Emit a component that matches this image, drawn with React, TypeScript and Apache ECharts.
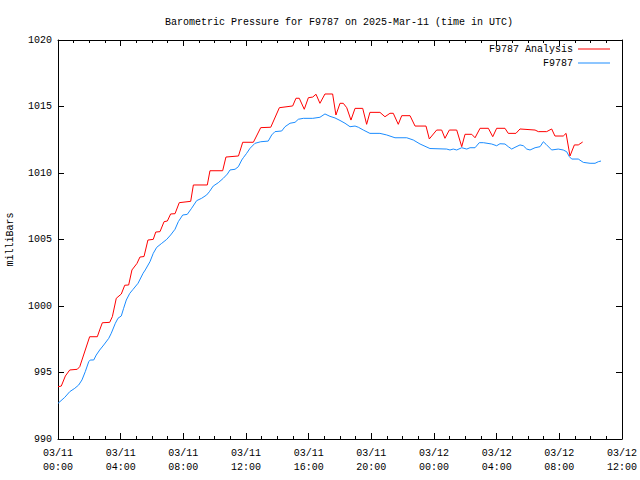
import React, { useEffect, useRef } from "react";
import * as echarts from "echarts";

// hours after 2025-03-11 00:00 UTC
const analysisHours = [
  0, 0.21, 0.47, 0.75, 1.23, 1.39, 2.02, 2.51, 2.66, 2.83, 3.3, 3.47, 3.72, 4.04, 4.26, 4.51, 4.72, 5.04, 5.23, 5.49,
  5.74, 6.08, 6.24, 6.51, 6.77, 6.98, 7.19, 7.47, 7.74, 8.47, 8.64, 9.53, 9.7, 10.51, 10.72, 11.52, 11.79, 12.47, 12.94, 13.58,
  14.13, 14.98, 15.19, 15.4, 15.72, 15.98, 16.26, 16.47, 16.72, 17.04, 17.53, 17.74, 18.0, 18.21, 18.43, 18.7, 18.96, 19.45, 19.7, 19.91,
  20.55, 20.87, 21.19, 21.4, 21.72, 21.94, 22.47, 22.79, 23.49, 23.7, 24.17, 24.49, 24.7, 24.98, 25.45, 25.77, 25.98, 26.41, 26.62, 26.94,
  27.47, 27.75, 28.0, 28.53, 28.74, 29.23, 29.49, 30.45, 30.66, 31.19, 31.51, 31.72, 32.25, 32.43, 32.68, 32.96, 33.21, 33.49,
];
const analysisValues = [
  993.93, 993.98, 994.74, 995.19, 995.24, 995.44, 997.69, 997.69, 998.2, 998.74, 998.77, 999.2, 1000.58, 1000.9, 1001.56, 1001.58, 1002.71, 1003.2, 1003.68, 1003.72,
  1004.96, 1005.01, 1005.56, 1005.59, 1006.34, 1006.39, 1006.92, 1006.94, 1007.77, 1007.87, 1009.1, 1009.1, 1010.17, 1010.17, 1011.2, 1011.28, 1012.31, 1012.31, 1013.41, 1013.44,
  1014.91, 1015.04, 1015.62, 1015.62, 1014.79, 1015.66, 1015.71, 1015.92, 1015.24, 1015.94, 1015.94, 1014.36, 1015.24, 1015.24, 1014.91, 1013.98, 1014.86, 1014.86, 1013.66, 1014.56,
  1014.56, 1014.23, 1014.49, 1014.49, 1013.66, 1014.31, 1014.31, 1013.53, 1013.53, 1012.56, 1013.23, 1013.23, 1012.61, 1013.23, 1013.23, 1011.98, 1012.91, 1012.91, 1012.65, 1013.36,
  1013.36, 1012.73, 1013.36, 1013.36, 1012.98, 1012.98, 1013.31, 1013.23, 1013.11, 1013.11, 1013.31, 1012.78, 1012.78, 1012.98, 1011.28, 1012.11, 1012.11, 1012.33,
];

const stationHours = [
  0, 0.43, 0.75, 1.07, 1.32, 1.53, 1.74, 1.96, 2.06, 2.28, 2.44, 2.66, 2.92, 3.24, 3.4, 3.66, 3.83, 4.04, 4.19, 4.36,
  4.58, 4.79, 5.11, 5.43, 5.57, 5.87, 6.08, 6.3, 6.62, 6.94, 7.19, 7.47, 7.68, 7.96, 8.25, 8.53, 8.85, 9.17, 9.49, 9.66,
  9.91, 10.23, 10.55, 10.81, 10.98, 11.3, 11.51, 11.73, 11.83, 12.04, 12.26, 12.57, 12.94, 13.42, 13.64, 13.85, 14.28, 14.49, 14.81, 15.13,
  15.34, 15.66, 16.26, 16.72, 17.04, 17.36, 17.68, 18.0, 18.32, 18.64, 18.96, 19.17, 19.49, 19.91, 20.55, 20.98, 21.51, 22.26, 22.68, 23.11,
  23.74, 24.81, 25.02, 25.23, 25.45, 25.77, 26.09, 26.3, 26.62, 26.89, 27.15, 27.68, 28.0, 28.21, 28.53, 28.74, 28.96, 29.17, 29.49, 29.7,
  29.92, 30.13, 30.45, 30.77, 30.98, 31.15, 31.51, 31.93, 32.25, 32.47, 32.64, 32.79, 33.21, 33.53, 33.96, 34.28, 34.49, 34.66,
];
const stationValues = [
  992.68, 993.13, 993.56, 993.81, 994.06, 994.44, 995.06, 995.81, 995.94, 995.94, 996.31, 996.69, 997.07, 997.57, 997.95, 998.7, 999.08, 999.25, 999.83, 1000.45,
  1000.95, 1001.25, 1001.71, 1002.46, 1002.71, 1003.33, 1003.96, 1004.41, 1004.71, 1005.01, 1005.34, 1005.77, 1006.34, 1006.84, 1006.89, 1007.35, 1007.92, 1008.1, 1008.35, 1008.59,
  1009.02, 1009.27, 1009.6, 1009.92, 1010.23, 1010.28, 1010.47, 1010.98, 1011.15, 1011.48, 1011.86, 1012.23, 1012.35, 1012.4, 1012.86, 1013.11, 1013.16, 1013.48, 1013.74, 1013.81,
  1014.04, 1014.11, 1014.11, 1014.19, 1014.44, 1014.26, 1014.14, 1013.95, 1013.74, 1013.48, 1013.53, 1013.44, 1013.23, 1012.98, 1012.98, 1012.86, 1012.65, 1012.65, 1012.48, 1012.18,
  1011.84, 1011.8, 1011.73, 1011.8, 1011.73, 1011.9, 1011.8, 1011.9, 1011.9, 1012.28, 1012.28, 1012.18, 1012.05, 1012.2, 1012.18, 1011.98, 1011.8, 1011.93, 1012.11, 1012.05,
  1011.8, 1011.73, 1011.9, 1011.98, 1012.35, 1012.16, 1011.73, 1011.8, 1011.73, 1011.6, 1011.23, 1011.05, 1011.05, 1010.8, 1010.73, 1010.73, 1010.85, 1010.9,
];

const seriesNames = ["F9787 Analysis", "F9787"];
const titleText = "Barometric Pressure for F9787 on 2025-Mar-11 (time in UTC)";
const yAxisTitle = "milliBars";
const xMin = 0;
const xMax = 36;
const xStep = 4;
const yMin = 990;
const yMax = 1020;
const yStep = 5;

const FONT = "'Liberation Mono', 'DejaVu Sans Mono', monospace";

function fmtX(v: number): string {
  const day = 11 + Math.floor(v / 24);
  const hr = Math.round(v % 24);
  const dd = String(day).padStart(2, "0");
  const hh = String(hr).padStart(2, "0");
  return `03/${dd}\n${hh}:00`;
}

export default function App() {
  const ref = useRef<HTMLDivElement>(null);
  useEffect(() => {
    if (!ref.current) return;
    const chart = echarts.init(ref.current, undefined, { renderer: "svg" });
    const axisCommon = {
      axisLine: { show: true, onZero: false, lineStyle: { color: "#000", width: 1 } },
      axisTick: { show: true, inside: true, length: 6, lineStyle: { color: "#000" } },
      splitLine: { show: false },
    };
    chart.setOption({
      animation: false,
      backgroundColor: "#fff",
      textStyle: { fontFamily: FONT },
      title: {
        text: titleText,
        left: 160,
        top: 12,
        textStyle: { fontFamily: FONT, fontSize: 10, fontWeight: "normal", color: "#000" },
      },
      legend: [
        {
          data: [seriesNames[0]],
          right: 30,
          top: 44,
          padding: 0,
          align: "right",
          icon: "rect",
          itemWidth: 32,
          itemHeight: 1,
          textStyle: { fontFamily: FONT, fontSize: 10, color: "#000" },
        },
        {
          data: [seriesNames[1]],
          right: 30,
          top: 58,
          padding: 0,
          align: "right",
          icon: "rect",
          itemWidth: 32,
          itemHeight: 1,
          textStyle: { fontFamily: FONT, fontSize: 10, color: "#000" },
        },
      ],
      grid: { left: 58, right: 18, top: 40, bottom: 41, show: false, containLabel: false, outerBoundsMode: "none" },
      xAxis: [
        {
          type: "value",
          min: xMin,
          max: xMax,
          interval: xStep,
          position: "bottom",
          ...axisCommon,
          minorTick: { show: true, splitNumber: 4, length: 3, lineStyle: { color: "#000" } },
          axisLabel: {
            show: true,
            formatter: fmtX,
            color: "#000",
            fontFamily: FONT,
            fontSize: 10,
            lineHeight: 14,
            margin: 7,
          },
        },
        {
          type: "value",
          min: xMin,
          max: xMax,
          interval: xStep,
          position: "top",
          ...axisCommon,
          minorTick: { show: true, splitNumber: 4, length: 3, lineStyle: { color: "#000" } },
          axisLabel: { show: false },
        },
      ],
      yAxis: [
        {
          type: "value",
          min: yMin,
          max: yMax,
          interval: yStep,
          position: "left",
          ...axisCommon,
          name: yAxisTitle,
          nameLocation: "middle",
          nameRotate: 90,
          nameGap: 43,
          nameTextStyle: { fontFamily: FONT, fontSize: 10, color: "#000" },
          axisLabel: { color: "#000", fontFamily: FONT, fontSize: 10, margin: 6, formatter: (v: number) => String(v) },
        },
        {
          type: "value",
          min: yMin,
          max: yMax,
          interval: yStep,
          position: "right",
          ...axisCommon,
          axisLabel: { show: false },
        },
      ],
      series: [
        {
          name: seriesNames[0],
          type: "line",
          data: analysisHours.map((h, i) => [h, analysisValues[i]]),
          showSymbol: false,
          symbol: "none",
          lineStyle: { color: "#ff0000", width: 1 },
          itemStyle: { color: "#ff0000" },
          z: 3,
        },
        {
          name: seriesNames[1],
          type: "line",
          data: stationHours.map((h, i) => [h, stationValues[i]]),
          showSymbol: false,
          symbol: "none",
          lineStyle: { color: "#1a8cff", width: 1 },
          itemStyle: { color: "#1a8cff" },
          z: 2,
        },
      ],
    });
    return () => chart.dispose();
  }, []);
  return <div ref={ref} style={{ width: 640, height: 480, position: "absolute", left: 0, top: 0 }} />;
}
